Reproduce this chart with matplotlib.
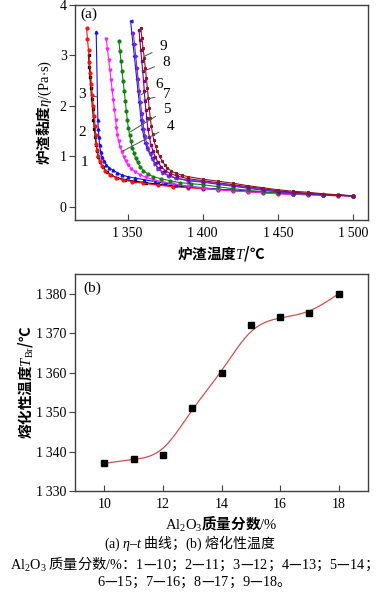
import numpy as np
import matplotlib
matplotlib.use("Agg")
import matplotlib.pyplot as plt
from matplotlib.ticker import FuncFormatter

plt.rcParams['font.family'] = ['Liberation Serif', 'Noto Sans CJK SC']
plt.rcParams['mathtext.fontset'] = 'custom'
plt.rcParams['mathtext.rm'] = 'Liberation Serif'
plt.rcParams['mathtext.it'] = 'Liberation Serif:italic'
plt.rcParams['mathtext.bf'] = 'Liberation Serif:bold'
plt.rcParams['axes.unicode_minus'] = False

CJK = 'Noto Sans CJK SC'

# ---- (a) viscosity - temperature curves, Al2O3 10..18 %
T1 = [1324.0, 1324.5, 1324.9, 1325.5, 1326.1, 1326.7, 1327.3, 1327.9, 1328.5, 1329.1, 1329.8, 1330.6,
      1331.8, 1333.5, 1336, 1339, 1343, 1348, 1355, 1362, 1370, 1380, 1390, 1400, 1410, 1420, 1430,
      1440, 1450, 1460, 1470, 1480, 1490, 1500]
eta1 = [3.0, 2.78, 2.58, 2.36, 2.14, 1.93, 1.73, 1.55, 1.38, 1.23, 1.1, 0.98,
        0.88, 0.79, 0.7, 0.63, 0.58, 0.54, 0.51, 0.48, 0.45, 0.42, 0.39, 0.37, 0.35, 0.33, 0.31,
        0.29, 0.27, 0.26, 0.25, 0.24, 0.23, 0.22]
T2 = [1322.7, 1323.3, 1324.0, 1324.6, 1325.3, 1325.9, 1326.5, 1327.2, 1327.8, 1328.4, 1328.8, 1329.2,
      1329.7, 1330.4, 1331.5, 1333, 1335, 1338, 1342, 1347, 1353, 1360, 1370, 1380, 1390, 1400, 1410,
      1420, 1430, 1440, 1450, 1460, 1470, 1480, 1490, 1500]
eta2 = [3.54, 3.32, 3.1, 2.88, 2.66, 2.44, 2.22, 2.0, 1.8, 1.6, 1.42, 1.25,
        1.12, 1.0, 0.9, 0.81, 0.72, 0.64, 0.58, 0.53, 0.5, 0.47, 0.43, 0.4, 0.38, 0.36, 0.34,
        0.32, 0.3, 0.28, 0.26, 0.25, 0.24, 0.23, 0.22, 0.22]
T3 = [1329.1, 1330.2, 1330.5, 1330.9, 1331.4, 1332.1, 1333, 1334.2, 1335.8, 1337.6, 1340, 1343,
      1346.4, 1350, 1355, 1361, 1368, 1375, 1382, 1390, 1400, 1410, 1420, 1430, 1440, 1450, 1460,
      1470, 1480, 1490, 1500]
eta3 = [3.47, 1.72, 1.55, 1.38, 1.22, 1.08, 0.98, 0.9, 0.83, 0.78, 0.73, 0.68,
        0.63, 0.6, 0.57, 0.54, 0.5, 0.47, 0.44, 0.41, 0.38, 0.35, 0.33, 0.31, 0.29, 0.27, 0.26,
        0.25, 0.24, 0.23, 0.22]
T4 = [1335.8, 1336.6, 1337.4, 1338.2, 1338.9, 1339.7, 1340.5, 1341.2, 1342.0, 1342.6, 1343.2, 1344,
      1345.1, 1346.4, 1347.6, 1348.9, 1350.5, 1352.5, 1355, 1358, 1362, 1367, 1373, 1380, 1390, 1400,
      1410, 1420, 1430, 1440, 1450, 1460, 1470, 1480, 1490, 1500]
eta4 = [3.33, 3.12, 2.92, 2.72, 2.52, 2.32, 2.12, 1.92, 1.72, 1.57, 1.43, 1.3,
        1.18, 1.08, 0.98, 0.9, 0.83, 0.76, 0.7, 0.64, 0.59, 0.54, 0.5, 0.46, 0.41, 0.37,
        0.34, 0.32, 0.3, 0.28, 0.26, 0.25, 0.24, 0.23, 0.22, 0.22]
T5 = [1344.2, 1344.9, 1345.6, 1346.3, 1347.0, 1347.8, 1348.5, 1349.2, 1349.8, 1350.5, 1351.3, 1352.2,
      1353.2, 1354.2, 1355.3, 1356.6, 1358.2, 1360.5, 1363.5, 1367, 1372, 1378, 1385, 1392, 1400, 1410,
      1420, 1430, 1440, 1450, 1460, 1470, 1480, 1490, 1500]
eta5 = [3.29, 3.09, 2.89, 2.69, 2.49, 2.29, 2.09, 1.89, 1.72, 1.57, 1.43, 1.3,
        1.17, 1.06, 0.97, 0.88, 0.8, 0.72, 0.65, 0.6, 0.56, 0.52, 0.48, 0.46, 0.44, 0.4,
        0.36, 0.33, 0.3, 0.28, 0.26, 0.25, 0.24, 0.23, 0.22]
T6 = [1352, 1352.8, 1353.6, 1354.5, 1355.3, 1356.1, 1356.9, 1357.8, 1358.6, 1359, 1359.8, 1360.7,
      1361.7, 1363, 1364.7, 1366.5, 1368, 1370, 1373, 1377, 1382, 1390, 1400, 1410, 1420, 1430,
      1440, 1450, 1460, 1470, 1480, 1490, 1500]
eta6 = [3.68, 3.45, 3.22, 2.99, 2.76, 2.53, 2.3, 2.07, 1.84, 1.72, 1.55, 1.4,
        1.27, 1.16, 1.06, 0.96, 0.86, 0.77, 0.69, 0.62, 0.57, 0.52, 0.49, 0.45, 0.41, 0.37,
        0.33, 0.3, 0.28, 0.26, 0.24, 0.23, 0.22]
T7 = [1353.8, 1354.6, 1355.4, 1356.2, 1357.0, 1357.8, 1358.6, 1359.4, 1360.1, 1360.8, 1361.6, 1362.6,
      1363.8, 1365.3, 1366.9, 1368.5, 1370.5, 1373.5, 1377.5, 1382.5, 1390, 1400, 1410, 1420, 1430,
      1440, 1450, 1460, 1470, 1480, 1490, 1500]
eta7 = [3.45, 3.22, 2.99, 2.76, 2.53, 2.3, 2.07, 1.86, 1.7, 1.55, 1.4, 1.27,
        1.15, 1.04, 0.94, 0.85, 0.76, 0.68, 0.62, 0.57, 0.53, 0.5, 0.46, 0.42, 0.38,
        0.34, 0.31, 0.28, 0.26, 0.24, 0.23, 0.22]
T8 = [1357.6, 1358.2, 1358.8, 1359.4, 1360.0, 1360.6, 1361.1, 1361.6, 1362.2, 1362.7, 1363.5, 1364.5,
      1365.6, 1367, 1368.5, 1370.3, 1372.5, 1375, 1378.5, 1383, 1390, 1400, 1410, 1420, 1430, 1440,
      1450, 1460, 1470, 1480, 1490, 1500]
eta8 = [3.5, 3.3, 3.1, 2.9, 2.7, 2.5, 2.3, 2.1, 1.92, 1.76, 1.55, 1.38,
        1.23, 1.1, 0.98, 0.88, 0.79, 0.72, 0.66, 0.61, 0.56, 0.52, 0.48, 0.44, 0.4, 0.36,
        0.32, 0.29, 0.27, 0.25, 0.23, 0.22]
T9 = [1358.7, 1359.5, 1360.3, 1361.1, 1361.8, 1362.5, 1363.2, 1363.8, 1364.4, 1365.1, 1365.8, 1366.6,
      1367.5, 1368.6, 1369.8, 1371.3, 1373, 1374.8, 1376.5, 1379, 1382, 1386, 1390, 1400, 1410, 1420,
      1430, 1440, 1450, 1460, 1470, 1480, 1490, 1500]
eta9 = [3.55, 3.35, 3.15, 2.95, 2.75, 2.55, 2.35, 2.15, 1.95, 1.76, 1.6, 1.45,
        1.32, 1.2, 1.1, 1.0, 0.91, 0.83, 0.77, 0.71, 0.67, 0.63, 0.6, 0.55, 0.51, 0.47,
        0.42, 0.38, 0.34, 0.31, 0.29, 0.26, 0.24, 0.22]

curve_T = [T1, T2, T3, T4, T5, T6, T7, T8, T9]
curve_eta = [eta1, eta2, eta3, eta4, eta5, eta6, eta7, eta8, eta9]
curve_names = ['1', '2', '3', '4', '5', '6', '7', '8', '9']
colors = ['#000000', '#ff1010', '#1010f0', '#ff20ff', '#108010', '#1a1ad0', '#7028e0', '#800080', '#8b1a1a']
markers = ['s', 'o', '^', 'v', 'o', '<', '>', 's', '*']

# label text position and leader end (T, eta)
label_txt = [(1321.5, 0.88), (1319.8, 1.48), (1319.5, 2.22), (1378.5, 1.6), (1376.2, 1.93),
             (1370.8, 2.43), (1376.2, 2.23), (1375.8, 2.87), (1374.0, 3.17)]
label_end = [(1330.9, 1.0), (1327.5, 1.6), (1329.8, 2.18), (1346.4, 1.1), (1352, 1.49),
             (1358.7, 2.22), (1360.9, 2.12), (1359.8, 2.68), (1360.9, 2.98)]

# ---- (b) melting temperature vs Al2O3
al2o3 = [10, 11, 12, 13, 14, 15, 16, 17, 18]
T_br = [1337, 1338, 1339, 1351, 1360, 1372, 1374, 1375, 1380]


def bspline(xs, ys, n=40):
    P = np.column_stack([xs, ys]).astype(float)
    P = np.vstack([P[:1], P[:1], P, P[-1:], P[-1:]])
    t = np.linspace(0, 1, n)[:, None]
    b0 = (1 - t) ** 3 / 6
    b1 = (3 * t ** 3 - 6 * t ** 2 + 4) / 6
    b2 = (-3 * t ** 3 + 3 * t ** 2 + 3 * t + 1) / 6
    b3 = t ** 3 / 6
    segs = [b0 * P[i] + b1 * P[i + 1] + b2 * P[i + 2] + b3 * P[i + 3] for i in range(len(P) - 3)]
    out = np.vstack(segs)
    return out[:, 0], out[:, 1]


def thousands(v, pos):
    s = '%d' % round(v)
    if len(s) == 4:
        s = s[0] + '\u2009' + s[1:]
    return s


W, H = 381, 597
fig = plt.figure(figsize=(W / 100, H / 100), dpi=100)

def px_axes(l, t, r, b):
    return fig.add_axes([l / W, 1 - b / H, (r - l) / W, (b - t) / H])

spine_c = '#404040'

ax1 = px_axes(75, 5, 368, 220)
for Tc, ec, c, m in zip(curve_T, curve_eta, colors, markers):
    ax1.plot(Tc, ec, color=c, lw=0.8, marker=m, ms=2.0, mec=c, mfc=c)
for name, (tx, ty), (ex, ey) in zip(curve_names, label_txt, label_end):
    ax1.annotate(name, xy=(ex, ey), xytext=(tx, ty), fontsize=11, ha='center', va='center',
                 arrowprops=dict(arrowstyle='-', color='#505050', lw=0.7, shrinkA=4, shrinkB=0))
ax1.set_xlim(1315, 1510)
ax1.set_ylim(-0.26, 4.0)
ax1.set_xticks([1350, 1400, 1450, 1500])
ax1.set_yticks([0, 1, 2, 3, 4])
ax1.xaxis.set_major_formatter(FuncFormatter(thousands))
ax1.text(0.02, 0.955, '(a)', transform=ax1.transAxes, fontsize=11, ha='left', va='center')
ax1.set_xlabel('炉渣温度$\\mathit{T}$/℃', fontsize=10.5, fontweight='bold', family=CJK, labelpad=3)
ax1.set_ylabel('炉渣黏度$\\eta\\mathrm{/(Pa{\\cdot}s)}$', fontsize=10.5, fontweight='bold',
               family=CJK, labelpad=4)

ax2 = px_axes(75, 274, 368, 491)
bx, by = bspline(al2o3, T_br)
ax2.plot(bx, by, color='#d05050', lw=0.9)
ax2.plot(al2o3, T_br, ls='none', marker='s', ms=4, color='black')
ax2.set_xlim(9, 19)
ax2.set_ylim(1330, 1385)
ax2.set_xticks([10, 12, 14, 16, 18])
ax2.set_yticks([1330, 1340, 1350, 1360, 1370, 1380])
ax2.yaxis.set_major_formatter(FuncFormatter(thousands))
ax2.text(0.03, 0.935, '(b)', transform=ax2.transAxes, fontsize=11, ha='left', va='center')
ax2.set_xlabel('$\\mathrm{Al_2O_3}$质量分数$\\mathrm{/\\%}$', fontsize=10.5, fontweight='bold',
               family=CJK, labelpad=3)
ax2.set_ylabel('熔化性温度$\\mathit{T}_\\mathrm{Br}$/℃', fontsize=10.5, fontweight='bold',
               family=CJK, labelpad=1)

for ax in (ax1, ax2):
    for s in ax.spines.values():
        s.set_color(spine_c)
        s.set_linewidth(1.0)
    ax.tick_params(axis='x', direction='in', length=4, width=0.8, color=spine_c, labelsize=10, pad=5)
    ax.tick_params(axis='y', direction='out', length=4, width=0.8, color=spine_c, labelsize=10, pad=2)

# captions
pairs = ['$%s$—$%d$' % (n, v) for n, v in zip(curve_names, al2o3)]
cap1 = '$\\mathrm{(a)}\\ \\eta\\mathrm{\u2013}\\mathit{t}$ 曲线；$\\mathrm{(b)}$ 熔化性温度'
cap2 = '$\\mathrm{Al_2O_3}$ 质量分数$\\mathrm{/\\%}$：' + '；'.join(pairs[:5]) + '；'
cap3 = '；'.join(pairs[5:]) + '。'
fig.text(190 / W, 1 - 543 / H, cap1, fontsize=10, family=CJK, ha='center', va='center')
fig.text(190 / W, 1 - 564 / H, cap2, fontsize=10.3, family=CJK, ha='center', va='center')
fig.text(190 / W, 1 - 582 / H, cap3, fontsize=10.3, family=CJK, ha='center', va='center')

fig.savefig('out.png', dpi=100)
